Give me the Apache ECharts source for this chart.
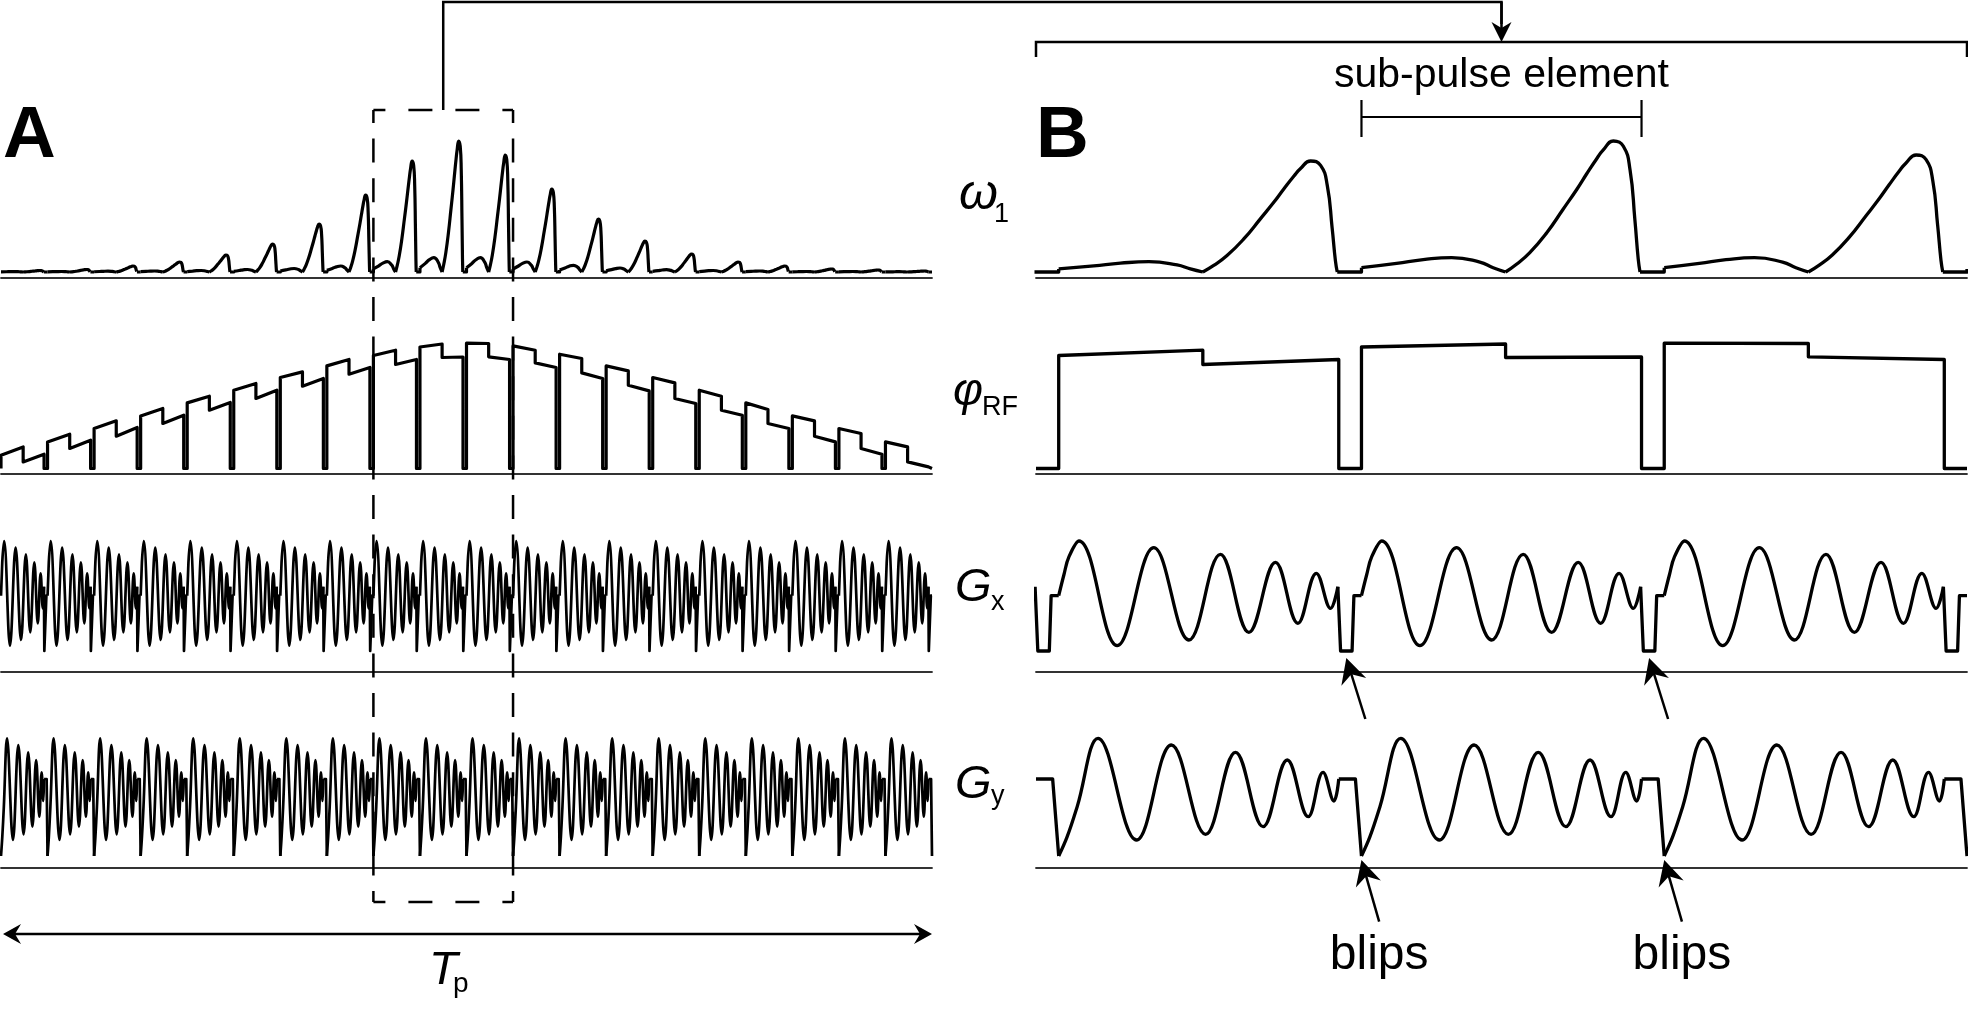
<!DOCTYPE html>
<html><head><meta charset="utf-8">
<script src="https://cdn.jsdelivr.net/npm/echarts@6/dist/echarts.min.js"></script>
<style>html,body{margin:0;padding:0;background:#fff}#c{width:1968px;height:1012px}</style>
</head><body><div id="c"></div>
<script>
// ================= DATA =================
const subPulseCount = 20;            // sub-pulse elements in the whole pulse (panel A)
const boxedSubPulses = [8, 9, 10];   // elements inside the dashed box, enlarged in panel B
const blipBoundaries = [1, 2];       // element boundaries in panel B marked "blips"
const rfOnFraction = 0.925;          // RF-on part of each element (rest = blip gap)
const phaseStepT = 0.476;            // local time of the RF phase step / omega1 zero

// omega1: per-element main-lobe peak and side-lobe height
const omegaPeak = [1.5, 2.5, 6, 10, 17, 28, 48, 77, 111, 131, 117, 83, 53, 31, 18, 10, 6, 3, 2, 1];
const omegaSide = [0.4, 0.5, 0.8, 1, 1.5, 2.5, 3.5, 6, 10.3, 14.4, 14.3, 10, 6.7, 4, 2.3, 1.5, 1, 0.5, 0.5, 0.3];
// omega1 element shape (normalised), local time within an element
const sideLobeT = [0.0, 0.116, 0.204, 0.298, 0.391, 0.435, 0.476];
const sideLobeV = [0.30, 0.60, 0.86, 1.00, 0.69, 0.30, 0.0];
const mainLobeT = [0.476, 0.512, 0.556, 0.612, 0.666, 0.711, 0.744, 0.777, 0.798, 0.832, 0.865, 0.887, 0.903, 0.914, 0.920];
const mainLobeV = [0.0, 0.059, 0.148, 0.30, 0.479, 0.63, 0.75, 0.865, 0.93, 1.0, 0.96, 0.78, 0.40, 0.10, 0.0];

// phi_RF: per-element levels (start, before step, after step, end)
const phiStart    = [13.3, 26.6, 40, 52.6, 65.6, 78.3, 91, 102.6, 113, 121.5, 125.3, 122.6, 114.3, 102.6, 91, 78.3, 65.6, 52.6, 40, 26.6];
const phiPreStep  = [21.6, 34.3, 47.7, 60, 72.3, 85, 96.6, 109, 118.3, 124.5, 125, 118.3, 110, 97.6, 85.6, 72.3, 59, 47.6, 35, 21.6];
const phiPostStep = [6.6, 20, 32.3, 45, 58.3, 70, 82.3, 94.3, 104, 111, 111.7, 105.6, 95.6, 83.3, 70, 58.3, 45, 32.3, 20, 6.6];
const phiEnd      = [14.3, 28.3, 41, 53.3, 66, 78.3, 90, 101, 109, 111.5, 109, 101, 90, 77.6, 65, 53.3, 40, 26.6, 14.3, 1.6];

// Gx element waveform (oscillation) and blip
const gxT = [0, 0.017, 0.034, 0.067, 0.193, 0.314, 0.430, 0.534, 0.628, 0.716, 0.790, 0.851, 0.898, 0.922];
const gxV = [0, 20.7, 39, 54.7, -50, 48, -44.3, 41.4, -36.6, 33.4, -27.6, 22.4, -12.6, 9];
const gxBlipT = [0.922, 0.931, 0.969, 0.975, 1.0];
const gxBlipV = [9, -55.3, -55.3, 0, 0];
// Gy element waveform (oscillation) and blip
const gyT = [0, 0.028, 0.061, 0.130, 0.257, 0.372, 0.485, 0.584, 0.675, 0.755, 0.824, 0.873, 0.909, 0.925];
const gyV = [-77, -57.7, -27.7, 40.7, -61, 34, -55.3, 26.7, -47.7, 19, -37.7, 6.7, -22, 0];
const gyBlipT = [0.925, 0.980, 1.0];
const gyBlipV = [0, 0, -77];

// ================= BUILD SERIES DATA =================
const BRK = ['-', '-'];
function emptyTraces() { return { wS: [], wG: [], phi: [], gxS: [], gxG: [], gyS: [], gyG: [] }; }

function gapPieces(tr, k, t0) {
  const wEnd = mainLobeT[mainLobeT.length - 1];
  tr.wG.push([t0 + wEnd, 0], [t0 + 1, 0]);
  if (k + 1 < subPulseCount) tr.wG.push([t0 + 1, omegaSide[k + 1] * sideLobeV[0]]);
  tr.wG.push(BRK);
  tr.phi.push([t0 + rfOnFraction, 0], [t0 + 1, 0]);
  gxBlipT.forEach((t, i) => tr.gxG.push([t0 + t, gxBlipV[i]])); tr.gxG.push(BRK);
  gyBlipT.forEach((t, i) => tr.gyG.push([t0 + t, gyBlipV[i]])); tr.gyG.push(BRK);
}
function elementPieces(tr, k, t0) {
  sideLobeT.forEach((t, i) => tr.wS.push([t0 + t, omegaSide[k] * sideLobeV[i]])); tr.wS.push(BRK);
  mainLobeT.forEach((t, i) => tr.wS.push([t0 + t, omegaPeak[k] * mainLobeV[i]])); tr.wS.push(BRK);
  tr.phi.push([t0, 0], [t0, phiStart[k]], [t0 + phaseStepT, phiPreStep[k]],
              [t0 + phaseStepT, phiPostStep[k]], [t0 + rfOnFraction, phiEnd[k]], [t0 + rfOnFraction, 0]);
  gxT.forEach((t, i) => tr.gxS.push([t0 + t, gxV[i]])); tr.gxS.push(BRK);
  gyT.forEach((t, i) => tr.gyS.push([t0 + t, gyV[i]])); tr.gyS.push(BRK);
  gapPieces(tr, k, t0);
}
function buildPanel(kList, offset) {
  const tr = emptyTraces();
  const k0 = kList[0];
  if (k0 > 0) gapPieces(tr, k0 - 1, k0 - 1 + offset);
  else { tr.wG.push([0, 0], [0, omegaSide[0] * sideLobeV[0]], BRK); }
  kList.forEach(k => elementPieces(tr, k, k + offset));
  return tr;
}
const allElements = Array.from({ length: subPulseCount }, (_, i) => i);
const traceA = buildPanel(allElements, 0);
const traceB = buildPanel(boxedSubPulses, -boxedSubPulses[0]);

// ================= LAYOUT =================
const panels = [
  { left: 1, width: 931, min: 0, max: subPulseCount, lwRF: 3.2, lwG: 2.7 },
  { left: 1036, width: 931, min: -(1 - rfOnFraction), max: boxedSubPulses.length, lwRF: 3.3, lwG: 3.3 }
];
const rows = [
  { top: 130, height: 148, min: -6, max: 142 },
  { top: 330, height: 144, min: -5.5, max: 138.5 },
  { top: 530, height: 142, min: -76.3, max: 65.7 },
  { top: 725, height: 143, min: -89, max: 54 }
];
const grid = [], xAxis = [], yAxis = [], series = [];
rows.forEach((r, ri) => panels.forEach((p, pi) => {
  const gi = ri * 2 + pi;
  grid.push({ left: p.left, width: p.width, top: r.top, height: r.height, containLabel: false });
  xAxis.push({ gridIndex: gi, type: 'value', min: p.min, max: p.max, position: 'bottom',
    axisLine: { show: true, onZero: false, lineStyle: { color: '#333', width: 1.8 } },
    axisTick: { show: false }, axisLabel: { show: false }, splitLine: { show: false } });
  yAxis.push({ gridIndex: gi, type: 'value', min: r.min, max: r.max, show: false, splitLine: { show: false } });
}));
function ls(gi, data, smooth, lw) {
  return { type: 'line', xAxisIndex: gi, yAxisIndex: gi, data, smooth: smooth || false,
    showSymbol: false, symbol: 'none', connectNulls: false, animation: false, silent: true, clip: true,
    lineStyle: { color: '#000', width: lw, join: 'round', cap: 'butt' }, z: 3 };
}
[traceA, traceB].forEach((tr, pi) => {
  const p = panels[pi];
  series.push(ls(0 + pi, tr.wS, 0.5, p.lwRF), ls(0 + pi, tr.wG, 0, p.lwRF));
  series.push(ls(2 + pi, tr.phi, 0, p.lwRF));
  series.push(ls(4 + pi, tr.gxS, 0.4, p.lwG), ls(4 + pi, tr.gxG, 0, p.lwG));
  series.push(ls(6 + pi, tr.gyS, 0.4, p.lwG), ls(6 + pi, tr.gyG, 0, p.lwG));
});

const chart = echarts.init(document.getElementById('c'), null, { renderer: 'canvas', width: 1968, height: 1012 });
chart.setOption({ backgroundColor: '#fff', animation: false, grid, xAxis, yAxis, series });

// ================= ANNOTATIONS =================
const FONT = '"Liberation Sans", Arial, Helvetica, sans-serif';
const G = [];
function text(str, x, baseline, size, o = {}) {
  const font = `${o.italic ? 'italic' : 'normal'} ${o.bold ? 'bold' : 'normal'} ${size}px ${FONT}`;
  const al = o.align || 'left';
  G.push({ type: 'text', z: 100, silent: true, style: { text: str, x: x, y: baseline - 0.35 * size, font,
    fill: '#000', textAlign: al, align: al, textVerticalAlign: 'middle', verticalAlign: 'middle' } });
}
function line(pts, lw, dash, dashOff) {
  const st = { stroke: '#000', lineWidth: lw, fill: null, lineJoin: 'miter' };
  if (dash) { st.lineDash = dash; st.lineDashOffset = dashOff || 0; }
  G.push({ type: 'polyline', z: 100, silent: true, shape: { points: pts }, style: st });
}
function arrow(tail, tip, len, halfW, notch, lw) {
  const dx = tip[0] - tail[0], dy = tip[1] - tail[1], L = Math.hypot(dx, dy);
  const ux = dx / L, uy = dy / L, nx = -uy, ny = ux;
  const bx = tip[0] - ux * len, by = tip[1] - uy * len;
  const nxp = tip[0] - ux * notch, nyp = tip[1] - uy * notch;
  line([tail, [nxp + ux * 1, nyp + uy * 1]], lw);
  G.push({ type: 'polygon', z: 101, silent: true, shape: { points: [tip, [bx + nx * halfW, by + ny * halfW], [nxp, nyp], [bx - nx * halfW, by - ny * halfW]] }, style: { fill: '#000' } });
}
const pxX = (ai, v) => chart.convertToPixel({ xAxisIndex: ai }, v);
const pxY = (ai, v) => chart.convertToPixel({ yAxisIndex: ai }, v);

// dashed box around the enlarged elements
const boxL = pxX(0, boxedSubPulses[0]);
const boxR = pxX(0, boxedSubPulses[boxedSubPulses.length - 1] + 1);
const boxTop = 110, boxBot = 902;
line([[boxL, boxTop], [boxL, boxBot]], 2.5, [24, 15.6], 11);
line([[boxR, boxTop], [boxR, boxBot]], 2.5, [24, 15.6], 11);
line([[boxL, boxTop], [boxR, boxTop]], 2.5, [24, 23], 12);
line([[boxL, boxBot], [boxR, boxBot]], 2.5, [24, 23], 12);

// connector to panel B
const connX = (boxL + boxR) / 2;
const bL = pxX(1, panels[1].min), bR = pxX(1, panels[1].max);
const bMid = (bL + bR) / 2;
line([[connX, boxTop], [connX, 2], [bMid, 2], [bMid, 24]], 2.5);
arrow([bMid, 2], [bMid, 42], 20, 10, 14, 2.5);
line([[bL, 57], [bL, 42], [bR, 42], [bR, 57]], 2.5);

// sub-pulse element bracket
const spL = pxX(1, 1), spR = pxX(1, 1 + rfOnFraction);
line([[spL, 117], [spR, 117]], 2.2);
line([[spL, 100], [spL, 137]], 2.2);
line([[spR, 100], [spR, 137]], 2.2);
text('sub-pulse element', bMid, 90, 41, { align: 'center' });

// blip arrows
const gxLow = Math.min(...gxBlipV), gyLow = Math.min(...gyBlipV);
const gxBlipMid = (gxBlipT[1] + gxBlipT[2]) / 2;
blipBoundaries.forEach(b => {
  const tipX = [pxX(5, b - 1 + gxBlipMid), pxY(5, gxLow) + 7];
  arrow([tipX[0] + 19, tipX[1] + 61], tipX, 25, 13, 17, 2.5);
  const tipY = [pxX(7, b), pxY(7, gyLow) + 4];
  const tail = [tipY[0] + 17.7, tipY[1] + 61.7];
  arrow(tail, tipY, 25, 13, 17, 2.5);
  text('blips', tail[0], 973, 48, { align: 'center' });
});

// Tp double arrow
const tpL = 3, tpR = 932, tpY = 934;
line([[tpL + 12, tpY], [tpR - 12, tpY]], 2.5);
G.push({ type: 'polygon', z: 101, silent: true, shape: { points: [[tpL, tpY], [tpL + 18, tpY - 10], [tpL + 12, tpY], [tpL + 18, tpY + 10]] }, style: { fill: '#000' } });
G.push({ type: 'polygon', z: 101, silent: true, shape: { points: [[tpR, tpY], [tpR - 18, tpY - 10], [tpR - 12, tpY], [tpR - 18, tpY + 10]] }, style: { fill: '#000' } });
text('T', 429, 987, 47, { italic: true });
text('p', 453, 994, 28);

// panel letters
text('A', 3, 162, 73, { bold: true });
text('B', 1036, 162, 73, { bold: true });

// row labels
text('ω', 959, 213, 50, { italic: true }); text('1', 994, 224, 27);
text('φ', 953, 408, 46, { italic: true }); text('RF', 982, 417, 27);
text('G', 955, 604, 47, { italic: true }); text('x', 991, 612, 27);
text('G', 955, 801, 47, { italic: true }); text('y', 991, 806, 27);

chart.setOption({ graphic: { elements: G } });
</script></body></html>
